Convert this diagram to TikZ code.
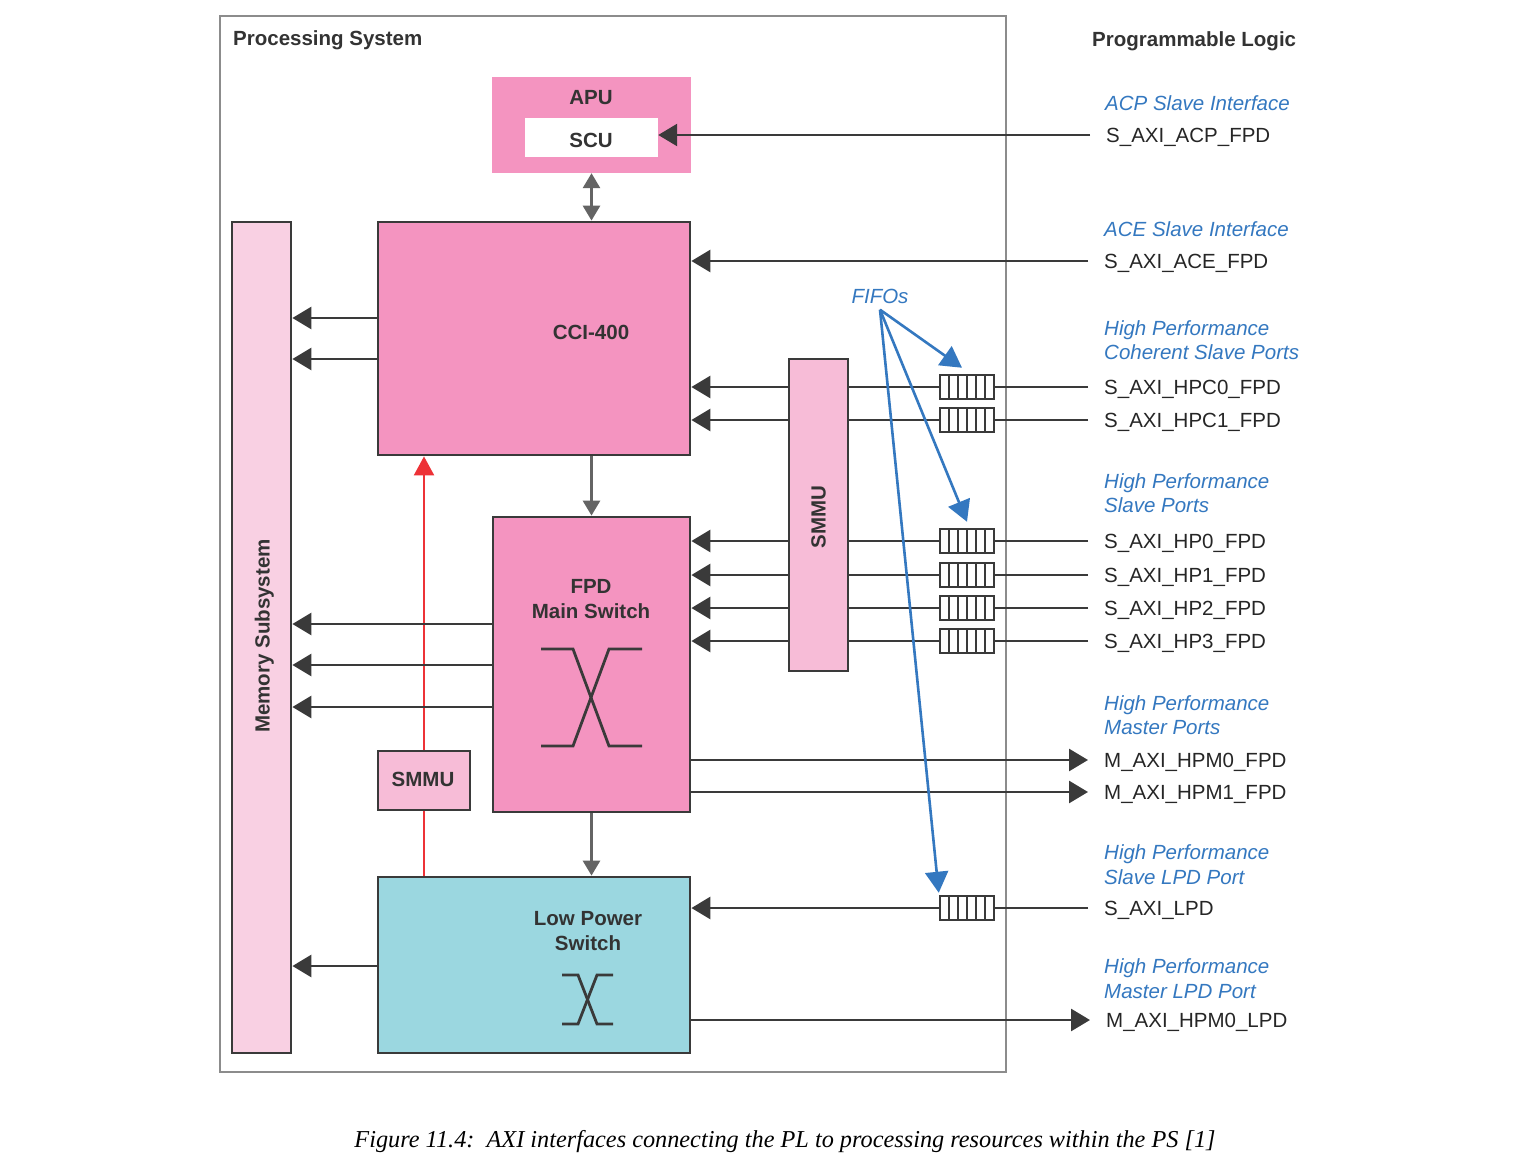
\documentclass[tikz,border=0pt]{standalone}
\usepackage{fontspec}
\usepackage{graphicx}
\setmainfont{Liberation Sans}
\newfontfamily\capfont{Liberation Serif}
\usetikzlibrary{arrows.meta}
\definecolor{pinkA}{RGB}{244,148,192}
\definecolor{pinkL}{RGB}{249,208,227}
\definecolor{pinkM}{RGB}{247,188,215}
\definecolor{cyanA}{RGB}{155,215,224}
\definecolor{dk}{RGB}{58,58,58}
\definecolor{gr}{RGB}{100,100,100}
\definecolor{frame}{RGB}{140,140,140}
\definecolor{redA}{RGB}{237,50,55}
\definecolor{blueA}{RGB}{52,120,192}
\definecolor{txt}{RGB}{51,51,51}
\begin{document}
\begin{tikzpicture}[x=1pt,y=-1pt,
  box/.style={draw=dk, line width=2.8pt, inner sep=0pt},
  btxt/.style={font=\bfseries\fontsize{20.5}{24}\selectfont, text=txt, inner sep=0pt, text height=15pt, text depth=0pt},
  lbl/.style={font=\fontsize{20.5}{24}\selectfont, text=black!85, anchor=west, inner xsep=16pt, inner ysep=0pt, text height=15pt, text depth=0pt},
  ttl/.style={font=\itshape\fontsize{20.5}{24}\selectfont, text=blueA, anchor=west, inner sep=0pt, text height=15pt, text depth=0pt},
  ln/.style={draw=dk, line width=2.8pt},
  arr/.style={draw=dk, line width=2.8pt, -{Triangle[length=19pt,width=22pt]}},
  garr/.style={draw=gr, line width=2.8pt, -{Triangle[length=15pt,width=17pt]}},
  gdarr/.style={draw=gr, line width=2.8pt, {Triangle[length=15pt,width=17pt]}-{Triangle[length=15pt,width=17pt]}},
  redarr/.style={draw=redA, line width=2.2pt, -{Triangle[length=19pt,width=20pt]}},
  barr/.style={draw=blueA, line width=2.6pt, -{Triangle[length=21pt,width=23pt]}},
  fifo/.style={draw=dk, line width=2.5pt, fill=white, minimum width=54pt, minimum height=24pt, inner sep=0pt,
    path picture={\foreach \i in {1,...,5}{\draw[dk, line width=2.5pt] ([xshift={\i*9pt}]path picture bounding box.north west) -- ([xshift={\i*9pt}]path picture bounding box.south west);}}}
]
\useasboundingbox (0,0) rectangle (1517,1173);
\fill[white] (0,0) rectangle (1517,1173);

% frame
\node[draw=frame, line width=2.2pt, minimum width=786pt, minimum height=1056pt, inner sep=0pt] (ps) at (613,544) {};
\node[btxt, anchor=west] (pstitle) at (233,38) {Processing System};
\node[btxt, anchor=west] (pltitle) at (1092,39) {Programmable Logic};

% boxes
\node[fill=pinkA, minimum width=199pt, minimum height=96pt, inner sep=0pt] (apu) at (591.5,125) {};
\node[fill=white, minimum width=133pt, minimum height=39pt, inner sep=0pt] (scu) at (591.5,137.5) {};
\node[btxt] (apulbl) at (591,97) {APU};
\node[btxt] (sculbl) at (591,140) {SCU};

\node[box, fill=pinkL, minimum width=59pt, minimum height=831pt] (mem) at (261.5,637.5) {};
\node[btxt, rotate=90] (memlbl) at (262,636) {Memory Subsystem};

\node[box, fill=pinkA, minimum width=312pt, minimum height=233pt] (cci) at (534,338.5) {};
\node[btxt] (ccilbl) at (591,332) {CCI-400};

\node[box, fill=pinkA, minimum width=197pt, minimum height=295pt] (fpd) at (591.5,664.5) {};
\node[btxt] (fpdlbl1) at (591,586) {FPD};
\node[btxt] (fpdlbl2) at (591,611) {Main Switch};

\node[box, fill=pinkM, minimum width=59pt, minimum height=312pt] (smmu) at (818.5,515) {};
\node[btxt, rotate=90] (smmulbl) at (818,517) {SMMU};

\node[box, fill=pinkM, minimum width=92pt, minimum height=59pt] (smmu2) at (424,780.5) {};
\node[btxt] (smmu2lbl) at (423,779) {SMMU};

\node[box, fill=cyanA, minimum width=312pt, minimum height=176pt] (lps) at (534,965) {};
\node[btxt] (lpslbl1) at (588,918) {Low Power};
\node[btxt] (lpslbl2) at (588,943) {Switch};

% crossbars
\draw[ln] (541,649) -- (573,649) -- (609,746) -- (642,746);
\draw[ln] (642,649) -- (609,649) -- (573,746) -- (541,746);
\draw[ln] (562,975) -- (578,975) -- (597,1024) -- (613,1024);
\draw[ln] (613,975) -- (597,975) -- (578,1024) -- (562,1024);

% internal connectors
\draw[gdarr] (apu.south) -- (cci.north -| apu.south);
\draw[garr] (cci.south -| fpd.north) -- (fpd.north);
\draw[garr] (fpd.south) -- (lps.north -| fpd.south);
\draw[redA, line width=2.2pt] (lps.north -| smmu2.south) -- (smmu2.south);
\draw[redarr] (smmu2.north) -- (cci.south -| smmu2.north);

\foreach \yy in {318,359} \draw[arr] (cci.west |- 0,\yy) -- (mem.east |- 0,\yy);
\foreach \yy in {624,665,707} \draw[arr] (fpd.west |- 0,\yy) -- (mem.east |- 0,\yy);
\draw[arr] (lps.west |- 0,966) -- (mem.east |- 0,966);

% FIFOs
\node[fifo] (f0) at (967,387) {};
\node[fifo] (f1) at (967,420) {};
\node[fifo] (f2) at (967,541) {};
\node[fifo] (f3) at (967,575) {};
\node[fifo] (f4) at (967,608) {};
\node[fifo] (f5) at (967,641) {};
\node[fifo] (f6) at (967,908) {};

% right labels
\node[ttl] (tacp) at (1105,103) {ACP Slave Interface};
\node[lbl] (acp) at (1090,135) {S\_AXI\_ACP\_FPD};
\node[ttl] (tace) at (1104,229) {ACE Slave Interface};
\node[lbl] (ace) at (1088,261) {S\_AXI\_ACE\_FPD};
\node[ttl] (thpc1) at (1104,328) {High Performance};
\node[ttl] (thpc2) at (1104,352) {Coherent Slave Ports};
\node[lbl] (hpc0) at (1088,387) {S\_AXI\_HPC0\_FPD};
\node[lbl] (hpc1) at (1088,420) {S\_AXI\_HPC1\_FPD};
\node[ttl] (thp1) at (1104,481) {High Performance};
\node[ttl] (thp2) at (1104,505) {Slave Ports};
\node[lbl] (hp0) at (1088,541) {S\_AXI\_HP0\_FPD};
\node[lbl] (hp1) at (1088,575) {S\_AXI\_HP1\_FPD};
\node[lbl] (hp2) at (1088,608) {S\_AXI\_HP2\_FPD};
\node[lbl] (hp3) at (1088,641) {S\_AXI\_HP3\_FPD};
\node[ttl] (thpm1) at (1104,703) {High Performance};
\node[ttl] (thpm2) at (1104,727) {Master Ports};
\node[lbl] (hpm0) at (1088,760) {M\_AXI\_HPM0\_FPD};
\node[lbl] (hpm1) at (1088,792) {M\_AXI\_HPM1\_FPD};
\node[ttl] (tlpd1) at (1104,852) {High Performance};
\node[ttl] (tlpd2) at (1104,877) {Slave LPD Port};
\node[lbl] (lpd) at (1088,908) {S\_AXI\_LPD};
\node[ttl] (tmlpd1) at (1104,966) {High Performance};
\node[ttl] (tmlpd2) at (1104,991) {Master LPD Port};
\node[lbl] (mlpd) at (1090,1020) {M\_AXI\_HPM0\_LPD};

% right connectors
\draw[arr] (acp.west) -- (scu.east |- acp.west);
\draw[arr] (ace.west) -- (cci.east |- ace.west);
\foreach \f/\l in {f0/hpc0,f1/hpc1}{
  \draw[ln] (\l.west) -- (\f.east);
  \draw[ln] (\f.west) -- (smmu.east |- \f.west);
  \draw[arr] (smmu.west |- \f.west) -- (cci.east |- \f.west);
}
\foreach \f/\l in {f2/hp0,f3/hp1,f4/hp2,f5/hp3}{
  \draw[ln] (\l.west) -- (\f.east);
  \draw[ln] (\f.west) -- (smmu.east |- \f.west);
  \draw[arr] (smmu.west |- \f.west) -- (fpd.east |- \f.west);
}
\draw[arr] (fpd.east |- hpm0.west) -- (hpm0.west);
\draw[arr] (fpd.east |- hpm1.west) -- (hpm1.west);
\draw[ln] (lpd.west) -- (f6.east);
\draw[arr] (f6.west) -- (lps.east |- f6.west);
\draw[arr] (lps.east |- mlpd.west) -- (mlpd.west);

% FIFOs label and pointers
\node[ttl, anchor=center] (fifolbl) at (880,296) {FIFOs};
\coordinate (fsrc) at ([yshift=-6pt]fifolbl.south);
\draw[barr] (fsrc) -- ([xshift=-5pt,yshift=6pt]f0.north);
\draw[barr] (fsrc) -- ([yshift=6pt]f2.north);
\draw[barr] (fsrc) -- ([yshift=2pt]f6.north west);

% caption
\node[anchor=base, inner sep=0pt] (caption) at (785,1147) {\resizebox{861pt}{!}{\capfont\itshape\fontsize{23}{27}\selectfont Figure 11.4:\ \ AXI interfaces connecting the PL to processing resources within the PS [1]}};
\end{tikzpicture}
\end{document}
